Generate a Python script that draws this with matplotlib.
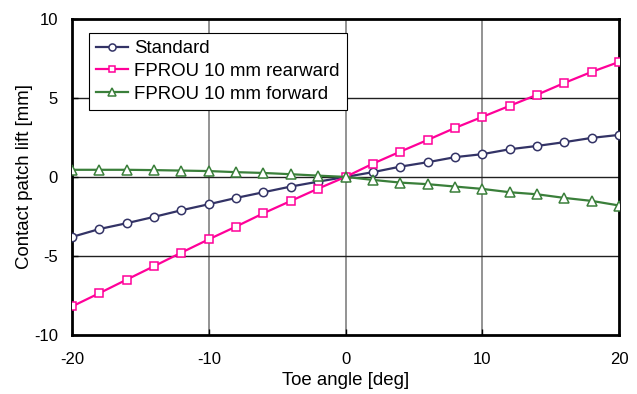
import matplotlib
matplotlib.use("Agg")
import matplotlib.pyplot as plt

plt.rcParams['font.family'] = ['Liberation Sans', 'DejaVu Sans']
plt.rcParams['axes.unicode_minus'] = False

# toe angle sweep [deg]
toe = [-20, -18, -16, -14, -12, -10, -8, -6, -4, -2, 0,
       2, 4, 6, 8, 10, 12, 14, 16, 18, 20]

# contact patch lift [mm]
standard = [-3.8, -3.3, -2.93, -2.53, -2.11, -1.73, -1.33, -0.97, -0.61, -0.3, 0.0,
            0.3, 0.65, 0.93, 1.25, 1.44, 1.75, 1.96, 2.2, 2.47, 2.66]
rearward = [-8.2, -7.36, -6.5, -5.65, -4.79, -3.95, -3.14, -2.3, -1.52, -0.74, 0.0,
            0.84, 1.6, 2.34, 3.1, 3.8, 4.5, 5.2, 5.95, 6.65, 7.28]
forward = [0.45, 0.45, 0.45, 0.43, 0.4, 0.37, 0.3, 0.25, 0.17, 0.08, 0.0,
           -0.19, -0.36, -0.46, -0.61, -0.76, -0.97, -1.1, -1.33, -1.52, -1.81]

labels = ['Standard', 'FPROU 10 mm rearward', 'FPROU 10 mm forward']

fig = plt.figure(figsize=(6.37, 3.94), dpi=100)
ax = fig.add_axes([0.113, 0.150, 0.859, 0.802])

ax.plot(toe, standard, color='#333366', lw=1.6, marker='o', ms=6,
        mfc='white', mec='#333366', mew=1.1, label=labels[0], zorder=3)
ax.plot(toe, rearward, color='#FF0099', lw=1.6, marker='s', ms=5.8,
        mfc='white', mec='#FF0099', mew=1.1, label=labels[1], zorder=3)
ax.plot(toe, forward, color='#3A7F3A', lw=1.6, marker='^', ms=7,
        mfc='white', mec='#3A7F3A', mew=1.1, label=labels[2], zorder=3)

ax.set_xlim(-20, 20)
ax.set_ylim(-10, 10)
ax.set_xticks([-20, -10, 0, 10, 20])
ax.set_yticks([-10, -5, 0, 5, 10])

for x in [-10, 0, 10]:
    ax.axvline(x, color='#808080', lw=1.2, zorder=1)
for y in [-5, 0, 5]:
    ax.axhline(y, color='#202020', lw=1.0, zorder=1)

for s in ax.spines.values():
    s.set_linewidth(2)
    s.set_color('black')

ax.tick_params(direction='in', length=4, width=1, labelsize=12)
ax.tick_params(axis='x', pad=12)
ax.tick_params(axis='y', pad=10)
ax.set_xlabel('Toe angle [deg]', fontsize=13.4, labelpad=4)
ax.set_ylabel('Contact patch lift [mm]', fontsize=13.4, labelpad=1)

leg = ax.legend(loc='upper left', bbox_to_anchor=(0.031, 0.956), fontsize=13.4,
                frameon=True, fancybox=False, edgecolor='black', framealpha=1,
                handlelength=1.7, handletextpad=0.3, labelspacing=0.3,
                borderpad=0.4, borderaxespad=0, markerscale=0.85)
leg.get_frame().set_linewidth(0.8)

fig.savefig('out.png', dpi=100)
